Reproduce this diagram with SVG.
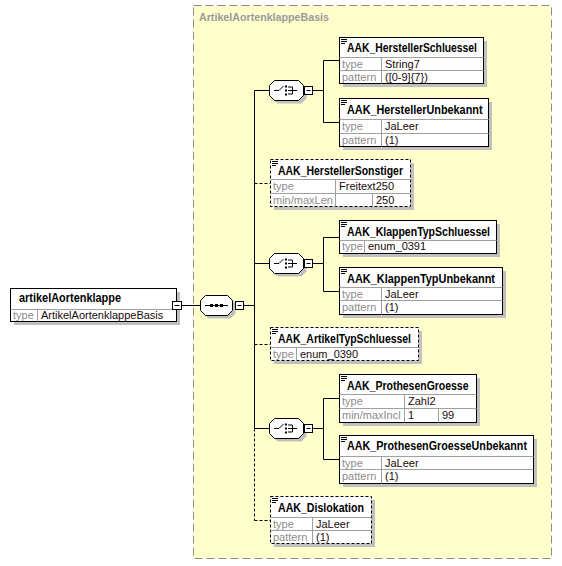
<svg xmlns="http://www.w3.org/2000/svg" width="562" height="566" viewBox="0 0 562 566">
<style>
text{font-family:"Liberation Sans",Arial,sans-serif;font-size:11px;fill:#1a0a0a}
.hd{font-weight:bold;font-size:12px;fill:#000}
.lb{fill:#8c8c8c}
.ttl{font-weight:bold;fill:#9a9a9a;font-size:11.5px}
.box{fill:#fff;stroke:#000;stroke-width:1}
.dbox{fill:#fff;stroke:#000;stroke-width:1;stroke-dasharray:3,2}
.sh{fill:#c0c0c0}
.dv{stroke:#a0a0a0;stroke-width:1}
.ic{stroke:#000;stroke-width:1}
.cn{stroke:#000;stroke-width:1;fill:none}
.dc{stroke:#000;stroke-width:1;fill:none;stroke-dasharray:3,2}
.oct{fill:#fff;stroke:#000;stroke-width:1}
.mb{fill:#fff;stroke:#000;stroke-width:1}
</style>
<rect x="193.5" y="5.5" width="358" height="553" fill="#ffffcc" stroke="#8c8c8c" stroke-dasharray="8,4"/>
<text class="ttl" x="199" y="21" textLength="130" lengthAdjust="spacingAndGlyphs">ArtikelAortenklappeBasis</text>

<g id="connectors">
<line class="cn" x1="181.5" y1="305.5" x2="200.5" y2="305.5"/>
<line class="cn" x1="243.5" y1="305.5" x2="254.5" y2="305.5"/>
<line class="cn" x1="254.5" y1="90.5" x2="254.5" y2="428.5"/>
<line class="dc" x1="254.5" y1="428.5" x2="254.5" y2="520.5"/>
<line class="cn" x1="254.5" y1="90.5" x2="269.5" y2="90.5"/>
<line class="cn" x1="254.5" y1="263.5" x2="269.5" y2="263.5"/>
<line class="cn" x1="254.5" y1="428.5" x2="269.5" y2="428.5"/>
<line class="dc" x1="254.5" y1="183.5" x2="270.5" y2="183.5"/>
<line class="dc" x1="254.5" y1="344.5" x2="270.5" y2="344.5"/>
<line class="dc" x1="254.5" y1="520.5" x2="270.5" y2="520.5"/>
<line class="cn" x1="312.5" y1="90.5" x2="323.5" y2="90.5"/>
<line class="cn" x1="312.5" y1="263.5" x2="323.5" y2="263.5"/>
<line class="cn" x1="312.5" y1="428.5" x2="323.5" y2="428.5"/>
<polyline class="cn" points="339.5,60.5 323.5,60.5 323.5,122.5 339.5,122.5"/>
<polyline class="cn" points="339.5,237.5 323.5,237.5 323.5,291.5 339.5,291.5"/>
<polyline class="cn" points="339.5,398.5 323.5,398.5 323.5,459.5 339.5,459.5"/>
</g>

<g id="artikelAortenklappe">
<rect class="sh" x="14" y="292" width="166" height="33"/>
<rect class="box" x="10.5" y="288.5" width="166" height="33"/>
<line class="dv" x1="10.5" y1="309.5" x2="176.5" y2="309.5"/>
<line class="dv" x1="37.5" y1="309.5" x2="37.5" y2="321.5"/>
<text class="hd" x="19" y="302" textLength="102" lengthAdjust="spacingAndGlyphs">artikelAortenklappe</text>
<text class="lb" x="13" y="318.5">type</text>
<text x="41" y="318.5">ArtikelAortenklappeBasis</text>
<rect class="mb" x="172.5" y="301.5" width="9" height="8"/>
<line class="ic" x1="174.5" y1="305.5" x2="179.5" y2="305.5"/>
</g>

<g id="sequence">
<polygon class="sh" points="208.5,298.5 230.5,298.5 235.5,303.5 235.5,313.5 230.5,318.5 208.5,318.5 203.5,313.5 203.5,303.5"/>
<polygon class="oct" points="205.5,295.5 227.5,295.5 232.5,300.5 232.5,310.5 227.5,315.5 205.5,315.5 200.5,310.5 200.5,300.5"/>
<line class="ic" x1="205" y1="305.5" x2="228" y2="305.5"/>
<rect x="210" y="304" width="3" height="3" fill="#000"/>
<rect x="215" y="304" width="3" height="3" fill="#000"/>
<rect x="220" y="304" width="3" height="3" fill="#000"/>
<rect class="mb" x="235.5" y="301.5" width="8" height="8"/>
<line class="ic" x1="237.5" y1="305.5" x2="241.5" y2="305.5"/>
</g>

<defs>
<g id="choiceSym">
<polygon fill="#c0c0c0" points="277.5,-7 301.5,-7 306.5,-2 306.5,8 301.5,13 277.5,13 272.5,8 272.5,-2"/>
<polygon class="oct" points="274.5,-10 298.5,-10 303.5,-5 303.5,5 298.5,10 274.5,10 269.5,5 269.5,-5"/>
<line class="ic" x1="274" y1="0" x2="279" y2="0"/>
<line class="ic" x1="279" y1="0" x2="283.5" y2="-4.5"/>
<rect x="285" y="-5" width="2" height="2" fill="#000"/>
<rect x="285" y="-1" width="2" height="2" fill="#000"/>
<rect x="285" y="3" width="2" height="2" fill="#000"/>
<polyline class="ic" fill="none" points="288,-3.5 292.5,-3.5 292.5,3.5 288,3.5"/>
<line class="ic" x1="288" y1="0" x2="297" y2="0"/>
<rect class="mb" x="304.5" y="-4" width="8" height="8"/>
<line class="ic" x1="306.5" y1="0" x2="310.5" y2="0"/>
</g>
<g id="icon">
<line class="ic" x1="0" y1="0" x2="6" y2="0"/>
<line class="ic" x1="0" y1="2" x2="6" y2="2"/>
<line class="ic" x1="0" y1="4" x2="4" y2="4"/>
</g>
</defs>

<g id="choice1"><use href="#choiceSym" transform="translate(0,90.5)"/></g>
<g id="choice2"><use href="#choiceSym" transform="translate(0,263.5)"/></g>
<g id="choice3"><use href="#choiceSym" transform="translate(0,428.5)"/></g>

<g id="AAK_HerstellerSchluessel">
<rect class="sh" x="343" y="41" width="144" height="46"/>
<rect class="box" x="339.5" y="37.5" width="144" height="46"/>
<use href="#icon" transform="translate(341,39.5)"/>
<line class="dv" x1="339.5" y1="57.5" x2="483.5" y2="57.5"/>
<line class="dv" x1="339.5" y1="70.5" x2="483.5" y2="70.5"/>
<line class="dv" x1="381.5" y1="57.5" x2="381.5" y2="83.5"/>
<text class="hd" x="347" y="52" textLength="130" lengthAdjust="spacingAndGlyphs">AAK_HerstellerSchluessel</text>
<text class="lb" x="342" y="67.5">type</text><text x="385" y="67.5">String7</text>
<text class="lb" x="342" y="80.5">pattern</text><text x="385" y="80.5">([0-9]{7})</text>
</g>

<g id="AAK_HerstellerUnbekannt">
<rect class="sh" x="343" y="102" width="149" height="48"/>
<rect class="box" x="339.5" y="98.5" width="149" height="48"/>
<use href="#icon" transform="translate(341,100.5)"/>
<line class="dv" x1="339.5" y1="119.5" x2="488.5" y2="119.5"/>
<line class="dv" x1="339.5" y1="133.5" x2="488.5" y2="133.5"/>
<line class="dv" x1="381.5" y1="119.5" x2="381.5" y2="146.5"/>
<text class="hd" x="347" y="113.5" textLength="135.5" lengthAdjust="spacingAndGlyphs">AAK_HerstellerUnbekannt</text>
<text class="lb" x="342" y="130">type</text><text x="385" y="130">JaLeer</text>
<text class="lb" x="342" y="143.5">pattern</text><text x="385" y="143.5">(1)</text>
</g>

<g id="AAK_HerstellerSonstiger">
<rect class="sh" x="274" y="163" width="140" height="47"/>
<rect class="dbox" x="270.5" y="159.5" width="140" height="47"/>
<use href="#icon" transform="translate(272,161.5)"/>
<line class="dv" x1="270.5" y1="179.5" x2="410.5" y2="179.5"/>
<line class="dv" x1="270.5" y1="193.5" x2="410.5" y2="193.5"/>
<line class="dv" x1="335.5" y1="179.5" x2="335.5" y2="206.5"/>
<line class="dv" x1="372.5" y1="193.5" x2="372.5" y2="206.5"/>
<text class="hd" x="278" y="174.5" textLength="125" lengthAdjust="spacingAndGlyphs">AAK_HerstellerSonstiger</text>
<text class="lb" x="273" y="190">type</text><text x="339" y="190">Freitext250</text>
<text class="lb" x="273" y="203.5">min/maxLen</text><text x="376" y="203.5">250</text>
</g>

<g id="AAK_KlappenTypSchluessel">
<rect class="sh" x="343" y="224" width="157" height="33"/>
<rect class="box" x="339.5" y="220.5" width="157" height="33"/>
<use href="#icon" transform="translate(341,222.5)"/>
<line class="dv" x1="339.5" y1="240.5" x2="496.5" y2="240.5"/>
<line class="dv" x1="364.5" y1="240.5" x2="364.5" y2="253.5"/>
<text class="hd" x="347" y="235.5" textLength="143" lengthAdjust="spacingAndGlyphs">AAK_KlappenTypSchluessel</text>
<text class="lb" x="342" y="250">type</text><text x="368" y="250">enum_0391</text>
</g>

<g id="AAK_KlappenTypUnbekannt">
<rect class="sh" x="343" y="271" width="163" height="47"/>
<rect class="box" x="339.5" y="267.5" width="163" height="47"/>
<use href="#icon" transform="translate(341,269.5)"/>
<line class="dv" x1="339.5" y1="287.5" x2="502.5" y2="287.5"/>
<line class="dv" x1="339.5" y1="300.5" x2="502.5" y2="300.5"/>
<line class="dv" x1="381.5" y1="287.5" x2="381.5" y2="314.5"/>
<text class="hd" x="347" y="282.5" textLength="148" lengthAdjust="spacingAndGlyphs">AAK_KlappenTypUnbekannt</text>
<text class="lb" x="342" y="297.5">type</text><text x="385" y="297.5">JaLeer</text>
<text class="lb" x="342" y="311">pattern</text><text x="385" y="311">(1)</text>
</g>

<g id="AAK_ArtikelTypSchluessel">
<rect class="sh" x="274" y="331" width="148" height="33"/>
<rect class="dbox" x="270.5" y="327.5" width="148" height="33"/>
<use href="#icon" transform="translate(272,329.5)"/>
<line class="dv" x1="270.5" y1="347.5" x2="418.5" y2="347.5"/>
<line class="dv" x1="296.5" y1="347.5" x2="296.5" y2="360.5"/>
<text class="hd" x="278" y="342.5" textLength="133" lengthAdjust="spacingAndGlyphs">AAK_ArtikelTypSchluessel</text>
<text class="lb" x="273" y="357.5">type</text><text x="300" y="357.5">enum_0390</text>
</g>

<g id="AAK_ProthesenGroesse">
<rect class="sh" x="343" y="378" width="137" height="48"/>
<rect class="box" x="339.5" y="374.5" width="137" height="48"/>
<use href="#icon" transform="translate(341,376.5)"/>
<line class="dv" x1="339.5" y1="394.5" x2="476.5" y2="394.5"/>
<line class="dv" x1="339.5" y1="408.5" x2="476.5" y2="408.5"/>
<line class="dv" x1="404.5" y1="394.5" x2="404.5" y2="422.5"/>
<line class="dv" x1="438.5" y1="408.5" x2="438.5" y2="422.5"/>
<text class="hd" x="347" y="389.5" textLength="121.5" lengthAdjust="spacingAndGlyphs">AAK_ProthesenGroesse</text>
<text class="lb" x="342" y="405">type</text><text x="408" y="405">Zahl2</text>
<text class="lb" x="342" y="419">min/maxIncl</text><text x="408" y="419">1</text><text x="442" y="419">99</text>
</g>

<g id="AAK_ProthesenGroesseUnbekannt">
<rect class="sh" x="343" y="439" width="194" height="48"/>
<rect class="box" x="339.5" y="435.5" width="194" height="48"/>
<use href="#icon" transform="translate(341,437.5)"/>
<line class="dv" x1="339.5" y1="456.5" x2="533.5" y2="456.5"/>
<line class="dv" x1="339.5" y1="469.5" x2="533.5" y2="469.5"/>
<line class="dv" x1="381.5" y1="456.5" x2="381.5" y2="483.5"/>
<text class="hd" x="347" y="450" textLength="180" lengthAdjust="spacingAndGlyphs">AAK_ProthesenGroesseUnbekannt</text>
<text class="lb" x="342" y="466.5">type</text><text x="385" y="466.5">JaLeer</text>
<text class="lb" x="342" y="480">pattern</text><text x="385" y="480">(1)</text>
</g>

<g id="AAK_Dislokation">
<rect class="sh" x="274" y="500" width="101" height="47"/>
<rect class="dbox" x="270.5" y="496.5" width="101" height="47"/>
<use href="#icon" transform="translate(272,498.5)"/>
<line class="dv" x1="270.5" y1="517.5" x2="371.5" y2="517.5"/>
<line class="dv" x1="270.5" y1="530.5" x2="371.5" y2="530.5"/>
<line class="dv" x1="312.5" y1="517.5" x2="312.5" y2="543.5"/>
<text class="hd" x="278" y="511.5" textLength="86" lengthAdjust="spacingAndGlyphs">AAK_Dislokation</text>
<text class="lb" x="273" y="527.5">type</text><text x="316" y="527.5">JaLeer</text>
<text class="lb" x="273" y="541">pattern</text><text x="316" y="541">(1)</text>
</g>
</svg>
